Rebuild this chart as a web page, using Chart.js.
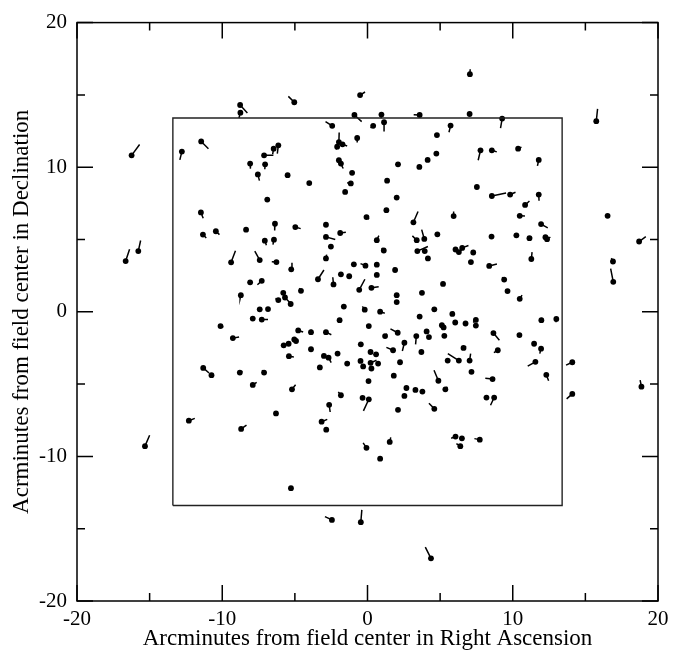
<!DOCTYPE html>
<html>
<head>
<meta charset="utf-8">
<script src="https://cdn.jsdelivr.net/npm/chart.js@4.4.1/dist/chart.umd.min.js"></script>
<style>
  html, body { margin: 0; padding: 0; background: #fff; }
  #wrap { width: 683px; height: 653px; position: relative; }
</style>
</head>
<body>
<div id="wrap"><canvas id="fieldChart"></canvas></div>
<script>
// star positions (arcmin from field centre) and their offset vectors
const raOffset = [
  -8.77, -8.75, -16.24, -12.78, -11.45, -7.12, -8.08, -7.05, -7.55, -6.90, -11.47,
  -5.04, -0.51, 7.05, -0.90, 0.96, 3.59, 7.03, -2.43, 0.39, 1.14, 5.72, 4.78, 4.74, 4.14, 3.57, 2.10,
  -0.71, -1.97, -2.09, -1.72, -6.46, -6.14, -1.97, -1.83, -1.06, -5.50, -4.01, -1.15, -1.54, 1.35, 2.01,
  1.30, -0.07, 3.16, 5.93,
  9.27, 15.75, 7.78, 8.56, 10.37, 11.79, 7.53, 8.56, 9.82, 11.79, 10.85, 10.48, 16.53,
  -15.78, -16.65, -11.33, -10.44, -8.36, -6.37, -7.07, -6.44, -9.39, -7.42, -6.27, -8.08, -7.28, -8.72,
  -6.14, -7.42, -6.85, -7.90, -7.28, -10.12, -9.27, -11.31, -10.74, -8.79, -7.12, -7.90,
  -4.97, -2.86, -2.86, -1.88, -2.52, -2.86, 0.64, 1.12, 3.39, 3.91, 4.81, 3.43, 3.94, 4.16, 6.06, 6.29,
  6.52, -5.25, -3.41, -2.34, -1.83, -1.26, -0.94, -0.14, 0.64, 0.64, 1.90, -0.57, 0.27, 5.20, 3.75,
  2.01, 2.01, -5.80, -5.68, -5.29, -4.58, -1.63, -0.19, 0.87, -1.92, 0.09, 3.59, 4.60, 5.84, 6.04,
  6.75, 5.12, 5.24, 5.29, 2.08, 1.21, 3.36, 4.07, 4.23, 2.54, 1.76, 3.71, 2.24, 1.81, 2.68, 3.30,
  3.78, 2.54, 4.88, 5.36, 6.29, 5.52, 6.61, -4.77, -3.89, -2.86, -5.77, -5.43, -5.04, -4.92, -5.41,
  -3.89, -3.00, -2.68, -2.06, -3.28, -1.40, -0.46, 0.21, 0.59, -0.48, -0.30, 0.21, 0.27, 0.73, 0.07,
  -5.20, -1.83, -0.34, 0.09, -2.64,
  11.95, 8.54, 10.25, 11.15, 12.25, 12.36, 7.28, 7.12, 8.38, 11.28, 9.41, 9.64, 10.48, 7.46, 7.46,
  11.97, 13.00, 8.67, 10.46, 8.97, 11.47, 11.95, 7.03, 7.16, 11.56, 8.61, 12.31, 14.10, 18.70, 16.90,
  16.92, 18.86, 14.10, 8.19, 8.72,
  -15.32, -12.30, -8.70, -6.30,
  -3.16, -2.84, 2.10, 4.60, -0.07, 1.53, 0.87, 6.06, 6.50, 6.39, 7.73, -5.27, -2.45, -0.46, 4.37
];
const decOffset = [
  14.30, 13.77, 10.82, 11.08, 11.78, 10.82, 10.25, 10.20, 9.50, 7.76, 6.87,
  14.49, 14.99, 16.43, 13.61, 13.64, 13.61, 13.68, 12.86, 12.86, 13.11, 12.88, 12.22, 10.94, 10.50, 10.02, 10.20,
  12.02, 11.74, 11.42, 11.58, 11.28, 11.51, 10.48, 10.25, 9.61, 9.45, 8.90, 8.88, 8.29, 9.07, 7.90,
  7.03, 6.55, 6.19, 6.62,
  13.36, 13.18, 11.17, 11.17, 11.28, 10.50, 8.63, 8.01, 8.11, 8.11, 7.39, 6.64, 6.64,
  4.20, 3.51, 5.34, 5.57, 5.68, 6.09, 4.92, 4.99, 3.42, 3.58, 3.44, 2.04, 2.14, 1.15,
  0.81, 0.17, 0.19, -0.47, -0.54, -0.99, -1.82, -3.88, -4.38, -4.20, -4.20, -5.06,
  5.86, 6.02, 5.18, 5.45, 4.51, 3.69, 4.95, 4.24, 4.95, 5.04, 5.36, 4.20, 4.20, 3.69, 4.31, 4.13,
  4.42, 2.94, 2.25, 1.89, 2.59, 2.46, 3.28, 3.19, 3.26, 2.55, 2.89, 1.52, 1.66, 1.93, 1.31,
  1.15, 0.67, 1.31, 0.99, 0.54, 1.45, 0.36, 0.15, 0.01, -0.58, -0.99, -0.33, 0.17, -0.15, -0.74,
  -0.81, -0.93, -1.08, -1.66, -1.45, -1.68, -1.68, -1.36, -1.75, -2.14, -2.66, -2.78, -3.49, -4.42, -5.27, -5.40,
  -5.52, -5.82, -4.77, -5.36, -3.37, -3.37, -2.50, -1.29, -1.41, -1.41, -2.32, -2.21, -1.91, -2.02, -3.07,
  -2.59, -3.05, -3.17, -2.89, -3.85, -3.58, -2.25, -2.78, -2.94, -3.40, -3.78, -3.53, -3.92, -3.58, -4.79,
  -5.36, -5.77, -5.95, -6.05, -6.43,
  6.07, 5.20, 5.29, 5.09, 5.16, 5.02, 4.10, 3.44, 3.17, 3.65, 2.23, 1.43, 0.90, -0.56, -0.95,
  -0.58, -0.49, -1.47, -1.61, -2.66, -2.21, -2.55, -3.37, -4.15, -3.46, -4.65, -4.36, -3.49, 4.86, 3.48,
  2.07, -5.18, -5.68, -5.93, -5.93,
  -9.29, -7.53, -8.10, -7.03,
  -7.60, -8.15, -6.78, -6.71, -9.41, -9.00, -10.16, -8.63, -8.75, -9.29, -8.84, -12.20, -14.39, -14.55, -17.05
];
const vecRA = [
  0.50, -0.10, 0.55, -0.14, 0.50, 0.64, 0.02, -0.02, 0.11, 0, 0.16,
  -0.41, 0.34, 0.02, 0.50, -0.02, -0.41, 0, -0.46, -0.18, 0, -0.11, 0, 0, 0, 0, 0,
  0, 0.02, -0.05, 0.32, -0.07, -0.07, 0.30, 0, 0, -0.07, 0, -0.25, 0, 0, 0,
  0, 0.18, 0.32, 0,
  -0.11, 0.09, -0.16, 0.34, 0.23, -0.09, -0.14, 0.98, 0.37, 0.02, 0.30, 0.36, 0,
  0.16, 0.27, 0.23, 0.25, 0, -0.02, 0.11, -0.07, 0.30, -0.34, -0.32, 0, -0.30, -0.05,
  -0.20, 0, 0, 0, 0.43, 0.20, 0.43, 0.40, 0, 0.18, -0.14, 0.27,
  0.37, 0, 0.64, 0.39, 0, 0.05, 0.14, -0.14, -0.30, -0.18, 0, 0.73, 0, 0, 0, 0.20,
  0.43, 0.05, 0.41, -0.05, 0, 0, 0, -0.34, -0.07, 0, -0.09, 0.39, 0.50, 0, 0,
  0, 0, 0, 0.39, 0, -0.11, 0, -0.16, 0.32, 0, 0, 0, 0, 0.09, 0,
  0, -0.05, 0, 0, -0.50, 0.14, -0.05, 0, 0, -0.14, -0.46, 0, 0, -0.09, 0, 0,
  0.09, 0, -0.30, 0.14, -0.76, 0, 0.18, 0.34, 0.02, 0.37, 0, 0, 0, 0, 0.34,
  0, 0, 0.18, 0, 0, 0.18, 0, 0, 0, 0, 0, 0.41, 0, 0, 0,
  0.25, -0.18, 0, -0.37, 0.07,
  0.46, 0, 0, 0.18, 0, 0.23, 0.05, 0, 0.53, 0.05, -0.14, 0, 0.16, -0.18, 0,
  0.05, -0.02, 0.41, 0, -0.27, 0, -0.09, 0.07, 0, -0.53, -0.50, 0.16, -0.43, 0.46, -0.11,
  -0.18, -0.09, -0.39, 0, -0.25,
  0.32, 0.41, 0.37, 0,
  0.39, 0, 0, -0.37, -0.23, 0.07, -0.14, -0.30, 0, -0.27, -0.37, 0, -0.48, 0.07, -0.39
];
const vecDec = [
  -0.55, -0.37, 0.75, -0.57, -0.50, 0, -0.35, -0.34, -0.43, 0, -0.40,
  0.41, 0.21, 0.34, -0.46, -0.25, 0.02, 0, 0.30, -0.14, -0.64, -0.46, 0, 0, 0, 0, 0,
  -0.32, 0.66, -0.20, -0.11, -0.37, -0.57, -0.57, 0, 0, -0.18, 0, 0.05, 0, 0, 0,
  0, -0.14, 0.75, 0.32,
  -0.66, 0.85, -0.69, -0.11, 0.11, -0.41, 0.07, 0.20, 0.16, -0.43, 0.27, -0.02, 0,
  0.73, 0.82, -0.23, -0.23, 0, -0.46, -0.32, -0.34, 0.80, 0.62, 0.02, 0, -0.27, -0.23,
  0.11, 0, 0, 0, 0, -0.07, 0.07, -0.35, 0, 0.09, 0.16, 0.18,
  -0.11, 0, -0.18, 0.05, 0, 0.27, 0.32, 0.18, 0.30, 0.64, 0, 0.32, 0, 0, 0, 0.16,
  0.16, 0.46, 0.64, 0.50, 0, 0, 0, 0.14, -0.14, 0, 0.16, 0.73, 0.07, 0, 0,
  0, 0, 0, -0.41, 0, 0.18, 0, 0.23, -0.11, 0, 0, 0, 0, 0.16, 0,
  0, 0.09, 0, 0, 0.27, 0.16, -0.57, 0, 0, -0.57, 0.20, 0, 0, 0.11, 0, 0,
  0.11, 0, 0.73, 0.18, 0.48, 0, 0.11, -0.11, 0.18, -0.18, 0, 0, 0, 0, -0.05,
  0, 0, -0.34, 0, 0, 0.05, 0, 0, 0, 0, 0, 0.18, 0, 0, 0,
  0.32, 0.23, 0, -0.80, -0.50,
  -0.27, 0, 0, 0.07, 0, 0.14, 0.14, 0, 0.14, 0.48, 0.16, 0, 0.25, -0.18, 0,
  0.16, -0.23, -0.50, 0, -0.16, 0, -0.34, 0.48, 0, -0.30, 0.05, -0.41, -0.20, 0.34, 0.23,
  0.91, 0.46, -0.34, 0, -0.53,
  0.75, 0.16, 0.27, 0,
  0.16, 0, 0, 0.39, 0.34, 0.32, 0.02, -0.11, 0, 0.18, 0.07, 0, 0.23, 0.85, 0.78
];
const tickValues = [-20, -10, 0, 10, 20];
const minorTickValues = [-15, -5, 5, 15];
const innerBoxX = [-13.4, 13.4, 13.4, -13.4, -13.4];
const innerBoxY = [-13.4, -13.4, 13.4, 13.4, -13.4];

const starPoints = raOffset.map((x, i) => ({ x: x, y: decOffset[i] }));
const vectorSegments = [];
raOffset.forEach((x, i) => {
  if (vecRA[i] === 0 && vecDec[i] === 0) return;
  vectorSegments.push({ x: x, y: decOffset[i] });
  vectorSegments.push({ x: x + vecRA[i], y: decOffset[i] + vecDec[i] });
  vectorSegments.push({ x: x, y: null });
});
const boxPoints = innerBoxX.map((x, i) => ({ x: x, y: innerBoxY[i] }));

// inward ticks on all four sides plus the frame
const frameTicks = {
  id: 'frameTicks',
  afterDatasetsDraw(chart) {
    const { ctx, chartArea: a, scales } = chart;
    ctx.save();
    ctx.strokeStyle = '#000';
    ctx.lineWidth = 1.5;
    ctx.strokeRect(a.left, a.top, a.right - a.left, a.bottom - a.top);
    const drawTicks = (vals, len) => {
      vals.forEach(v => {
        const px = scales.x.getPixelForValue(v);
        const py = scales.y.getPixelForValue(v);
        ctx.beginPath();
        ctx.moveTo(px, a.bottom); ctx.lineTo(px, a.bottom - len);
        ctx.moveTo(px, a.top); ctx.lineTo(px, a.top + len);
        ctx.moveTo(a.left, py); ctx.lineTo(a.left + len, py);
        ctx.moveTo(a.right, py); ctx.lineTo(a.right - len, py);
        ctx.stroke();
      });
    };
    drawTicks(tickValues, 16);
    drawTicks(minorTickValues, 8);
    ctx.restore();
  }
};

const serif = 'Liberation Serif, Times New Roman, serif';

new Chart(document.getElementById('fieldChart'), {
  type: 'scatter',
  data: {
    datasets: [
      {
        data: boxPoints,
        showLine: true,
        borderColor: '#222',
        borderWidth: 1.4,
        pointRadius: 0,
        tension: 0
      },
      {
        data: vectorSegments,
        showLine: true,
        spanGaps: false,
        borderColor: '#000',
        borderWidth: 1.5,
        pointRadius: 0,
        tension: 0
      },
      {
        data: starPoints,
        pointRadius: 2.9,
        pointBackgroundColor: '#000',
        pointBorderWidth: 0
      }
    ]
  },
  plugins: [frameTicks],
  options: {
    responsive: true,
    maintainAspectRatio: false,
    animation: false,
    layout: { padding: { top: 18, right: 25, left: 0, bottom: 0 } },
    plugins: { legend: { display: false }, tooltip: { enabled: false } },
    scales: {
      x: {
        type: 'linear',
        min: -20, max: 20,
        grid: { display: false, drawTicks: false },
        border: { display: false },
        afterBuildTicks: s => { s.ticks = tickValues.map(v => ({ value: v })); },
        afterFit: s => { s.height = 52; },
        ticks: { color: '#000', padding: 6, autoSkip: false, maxRotation: 0, font: { family: serif, size: 21 } },
        title: {
          display: true,
          text: 'Arcminutes from field center in Right Ascension',
          color: '#000',
          padding: { top: 0, bottom: 0 },
          font: { family: serif, size: 23 }
        }
      },
      y: {
        type: 'linear',
        min: -20, max: 20,
        grid: { display: false, drawTicks: false },
        border: { display: false },
        afterBuildTicks: s => { s.ticks = tickValues.map(v => ({ value: v })); },
        afterFit: s => { s.width = 77; },
        ticks: { color: '#000', padding: 10, autoSkip: false, font: { family: serif, size: 21 } },
        title: {
          display: true,
          text: 'Acrminutes from field center in Declination',
          color: '#000',
          padding: { top: 8, bottom: 0 },
          font: { family: serif, size: 23 }
        }
      }
    }
  }
});
</script>
</body>
</html>
